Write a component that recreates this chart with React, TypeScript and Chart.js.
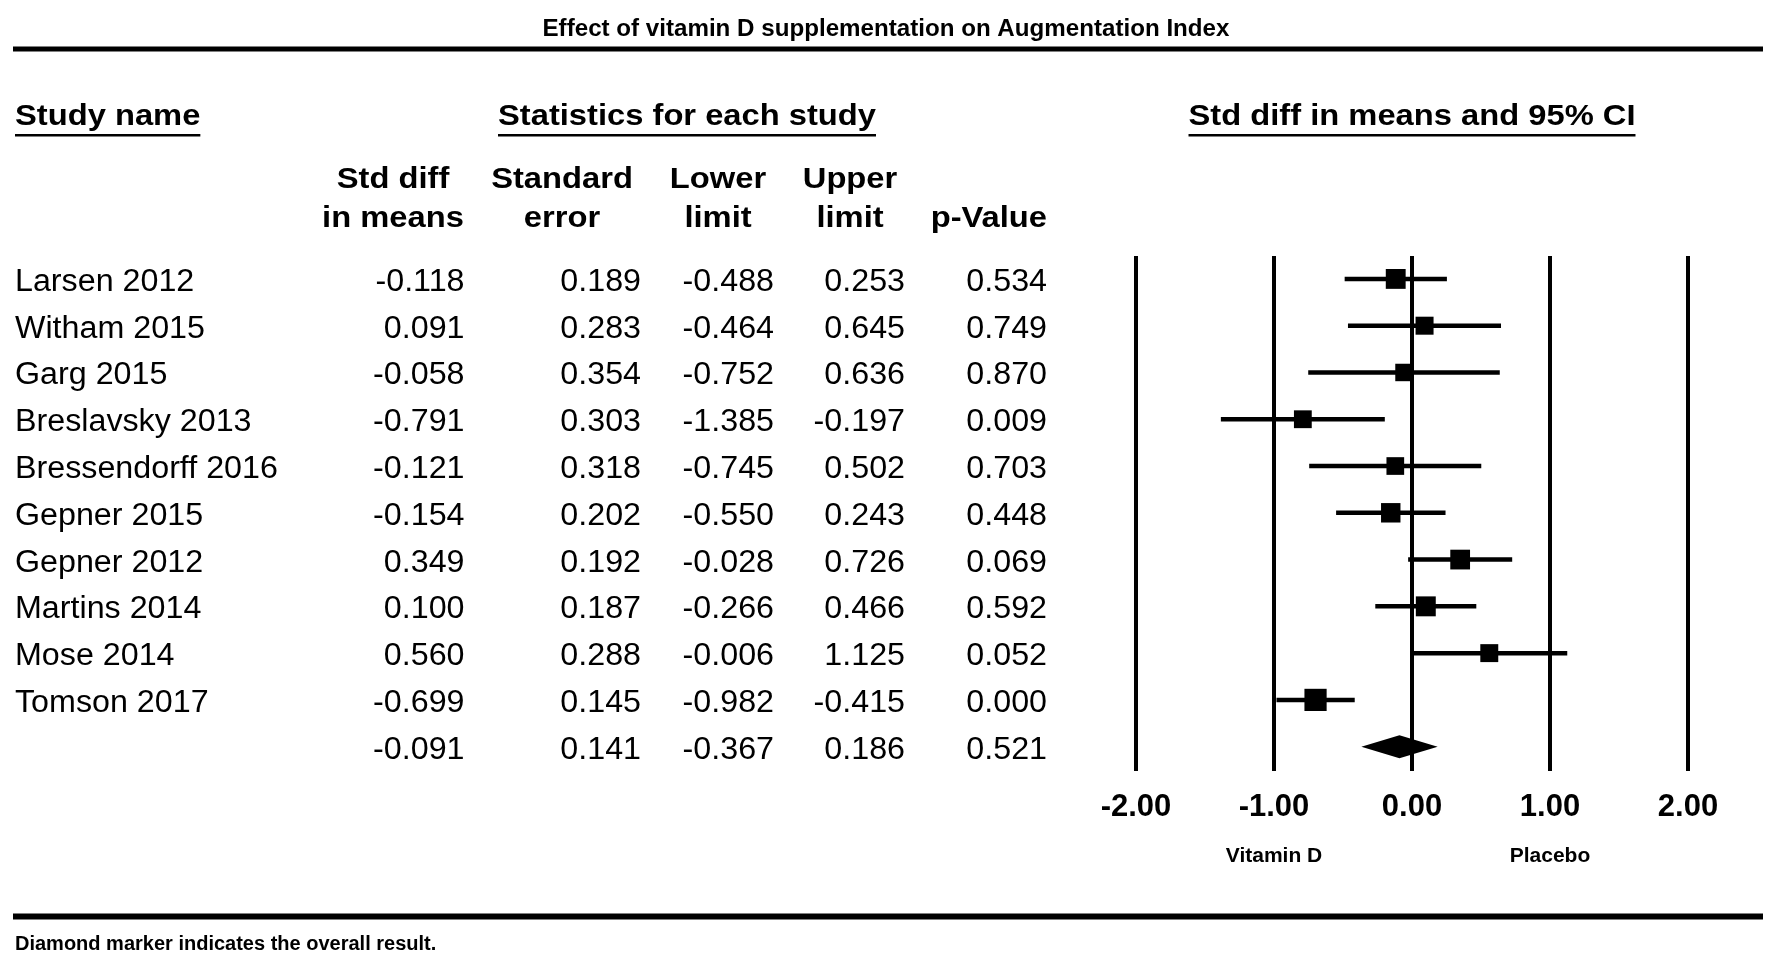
import React, { useEffect, useRef } from 'react';
import { Chart, registerables } from 'chart.js';

Chart.register(...registerables);

// ---------- data ----------
const studies = [
  'Larsen 2012',
  'Witham 2015',
  'Garg 2015',
  'Breslavsky 2013',
  'Bressendorff 2016',
  'Gepner 2015',
  'Gepner 2012',
  'Martins 2014',
  'Mose 2014',
  'Tomson 2017',
];
const stdDiff = [-0.118, 0.091, -0.058, -0.791, -0.121, -0.154, 0.349, 0.1, 0.56, -0.699];
const stdErr = [0.189, 0.283, 0.354, 0.303, 0.318, 0.202, 0.192, 0.187, 0.288, 0.145];
const lowerLimit = [-0.488, -0.464, -0.752, -1.385, -0.745, -0.55, -0.028, -0.266, -0.006, -0.982];
const upperLimit = [0.253, 0.645, 0.636, -0.197, 0.502, 0.243, 0.726, 0.466, 1.125, -0.415];
const pValue = [0.534, 0.749, 0.87, 0.009, 0.703, 0.448, 0.069, 0.592, 0.052, 0.0];
// overall (diamond): std diff, standard error, lower, upper, p
const overallRow = [-0.091, 0.141, -0.367, 0.186, 0.521];

const tickValues = [-2, -1, 0, 1, 2];
const tickLabels = ['-2.00', '-1.00', '0.00', '1.00', '2.00'];

const titleText = 'Effect of vitamin D supplementation on Augmentation Index';
const sectionHeaders = ['Study name', 'Statistics for each study', 'Std diff in means and 95% CI'];
const columnHeaders = [
  ['Std diff', 'in means'],
  ['Standard', 'error'],
  ['Lower', 'limit'],
  ['Upper', 'limit'],
  ['', 'p-Value'],
];
const favourLabels = ['Vitamin D', 'Placebo'];
const footerText = 'Diamond marker indicates the overall result.';

// ---------- style ----------
const FONT = '"Liberation Sans", Arial, Helvetica, sans-serif';
const BLACK = '#000000';

type Align = 'left' | 'right' | 'center';

function drawText(
  ctx: CanvasRenderingContext2D,
  s: string,
  x: number,
  y: number,
  size: number,
  bold: boolean,
  align: Align,
  sx = 1
): number {
  ctx.save();
  ctx.font = `${bold ? 'bold ' : ''}${size}px ${FONT}`;
  ctx.textAlign = align;
  ctx.textBaseline = 'alphabetic';
  ctx.fillStyle = BLACK;
  const w = ctx.measureText(s).width * sx;
  ctx.translate(x, y);
  ctx.scale(sx, 1);
  ctx.fillText(s, 0, 0);
  ctx.restore();
  return w;
}

const tablePlugin = {
  id: 'forestTable',
  afterDatasetsDraw(chart: any) {
    const ctx: CanvasRenderingContext2D = chart.ctx;
    const xs = chart.scales.x;
    const ys = chart.scales.y;
    // overall diamond
    const yc = ys.getPixelForValue(studies.length);
    const h = 11.5;
    const xl = xs.getPixelForValue(overallRow[2]);
    const xm = xs.getPixelForValue(overallRow[0]);
    const xr = xs.getPixelForValue(overallRow[3]);
    ctx.save();
    ctx.fillStyle = BLACK;
    ctx.beginPath();
    ctx.moveTo(xl, yc);
    ctx.lineTo(xm, yc - h);
    ctx.lineTo(xr, yc);
    ctx.lineTo(xm, yc + h);
    ctx.closePath();
    ctx.fill();
    ctx.restore();
  },
  afterDraw(chart: any) {
    const ctx: CanvasRenderingContext2D = chart.ctx;
    const xs = chart.scales.x;
    const ys = chart.scales.y;
    const area = chart.chartArea;

    ctx.save();
    ctx.fillStyle = BLACK;
    // horizontal rules
    ctx.fillRect(13, 46.5, 1750, 5);
    ctx.fillRect(13, 913.5, 1750, 6);
    ctx.restore();

    // title
    drawText(ctx, titleText, 886, 36, 23, true, 'center', 1.05);

    // section headers with underlines
    const hdrY = 124.5;
    const hdrSize = 30;
    const hdrSx = 1.09;
    const centers: [number, Align][] = [
      [15, 'left'],
      [687, 'center'],
      [(area.left + area.right) / 2, 'center'],
    ];
    sectionHeaders.forEach((s, i) => {
      const [x, al] = centers[i];
      const w = drawText(ctx, s, x, hdrY, hdrSize, true, al, hdrSx);
      const x0 = al === 'left' ? x : x - w / 2;
      ctx.save();
      ctx.fillStyle = BLACK;
      ctx.fillRect(x0, 134, w, 2.5);
      ctx.restore();
    });

    // column headers
    const colHdrX: [number, Align][] = [
      [393, 'center'],
      [562, 'center'],
      [718, 'center'],
      [850, 'center'],
      [1047, 'right'],
    ];
    columnHeaders.forEach((lines, i) => {
      const [x, al] = colHdrX[i];
      if (lines[0]) drawText(ctx, lines[0], x, 188, hdrSize, true, al, hdrSx);
      if (lines[1]) drawText(ctx, lines[1], x, 226.5, hdrSize, true, al, hdrSx);
    });

    // rows
    const colRight = [464.5, 641, 774, 905, 1047];
    const rowSize = 31;
    const rowSx = 1.04;
    const off = 12;
    studies.forEach((name, i) => {
      const y = ys.getPixelForValue(i) + off;
      drawText(ctx, name, 15, y, rowSize, false, 'left', rowSx);
      const vals = [stdDiff[i], stdErr[i], lowerLimit[i], upperLimit[i], pValue[i]];
      vals.forEach((v, j) => drawText(ctx, v.toFixed(3), colRight[j], y, rowSize, false, 'right', rowSx));
    });
    const yo = ys.getPixelForValue(studies.length) + off;
    overallRow.forEach((v, j) => drawText(ctx, v.toFixed(3), colRight[j], yo, rowSize, false, 'right', rowSx));

    // favour labels
    drawText(ctx, favourLabels[0], xs.getPixelForValue(-1), 862, 21, true, 'center');
    drawText(ctx, favourLabels[1], xs.getPixelForValue(1), 862, 21, true, 'center');

    // footer
    drawText(ctx, footerText, 15, 950, 20, true, 'left');
  },
};

export default function App() {
  const canvasRef = useRef<HTMLCanvasElement | null>(null);

  useEffect(() => {
    const canvas = canvasRef.current;
    if (!canvas) return;

    const squareRadius = stdErr.map((se) => {
      const side = 16.5 + 0.12 / (se * se);
      return side / (2 * Math.SQRT1_2);
    });

    const ciDatasets = studies.map((_, i) => ({
      type: 'scatter' as const,
      label: studies[i] + ' CI',
      data: [
        { x: lowerLimit[i], y: i },
        { x: upperLimit[i], y: i },
      ],
      showLine: true,
      borderColor: BLACK,
      borderWidth: 4.5,
      borderCapStyle: 'butt' as const,
      pointRadius: 0,
      pointHoverRadius: 0,
      order: 2,
    }));

    const chart = new Chart(canvas, {
      type: 'scatter',
      data: {
        datasets: [
          {
            label: 'Std diff in means',
            data: stdDiff.map((v, i) => ({ x: v, y: i })),
            pointStyle: 'rect',
            pointRadius: squareRadius,
            pointHoverRadius: squareRadius,
            pointBackgroundColor: BLACK,
            pointBorderColor: BLACK,
            pointBorderWidth: 0,
            order: 1,
          },
          ...ciDatasets,
        ] as any,
      },
      options: {
        animation: false,
        responsive: false,
        devicePixelRatio: 1,
        events: [],
        layout: { padding: { top: 256, left: 1136, right: 84, bottom: 102 } },
        plugins: {
          legend: { display: false },
          tooltip: { enabled: false },
          title: { display: false },
        },
        scales: {
          x: {
            type: 'linear',
            min: -2,
            max: 2,
            afterFit: (scale: any) => {
              scale.height = 80;
            },
            afterBuildTicks: (scale: any) => {
              scale.ticks = tickValues.map((v) => ({ value: v }));
            },
            grid: { color: BLACK, lineWidth: 4, drawTicks: false },
            border: { display: false },
            ticks: {
              padding: 18,
              color: BLACK,
              maxRotation: 0,
              autoSkip: false,
              font: { family: FONT, size: 31, weight: 'bold' },
              callback: (v: any) => {
                const k = tickValues.indexOf(Number(v));
                return k >= 0 ? tickLabels[k] : '';
              },
            },
          },
          y: {
            type: 'linear',
            display: false,
            reverse: true,
            min: -0.49,
            max: 10.52,
          },
        },
      },
      plugins: [tablePlugin],
    });

    return () => chart.destroy();
  }, []);

  return (
    <div style={{ position: 'absolute', left: 0, top: 0, width: 1772, height: 953, background: '#ffffff' }}>
      <canvas ref={canvasRef} width={1772} height={953} style={{ display: 'block', width: 1772, height: 953 }} />
    </div>
  );
}
